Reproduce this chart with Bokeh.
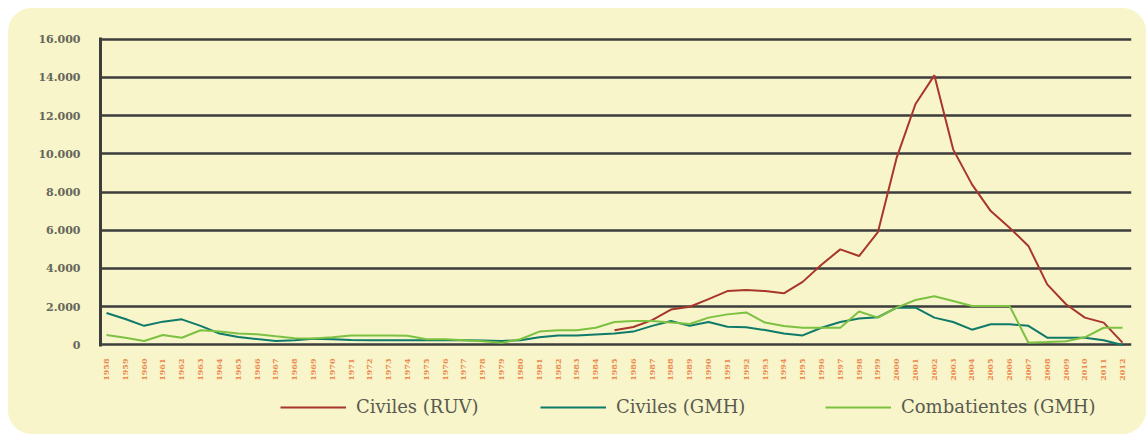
import math
from bokeh.plotting import figure
from bokeh.models import Range1d, FixedTicker, Legend, LegendItem
from bokeh.layouts import column
from bokeh.embed import file_html
from bokeh.resources import INLINE

years = list(range(1958, 2013))

ruv_years = list(range(1985, 2013))
civiles_ruv = [770, 940, 1300, 1850, 2000, 2400, 2820, 2870, 2820, 2700,
               3300, 4200, 5000, 4650, 5900, 9800, 12600, 14100, 10230, 8400,
               7000, 6130, 5180, 3170, 2130, 1430, 1170, 120]

civiles_gmh = [1670, 1360, 1000, 1220, 1340, 1000, 600, 420, 310, 210,
               250, 330, 300, 260, 250, 250, 250, 250, 250, 250,
               230, 210, 250, 400, 500, 500, 550, 600, 700, 1000,
               1250, 1000, 1200, 950, 930, 780, 600, 500, 900, 1200,
               1380, 1450, 1950, 1950, 1430, 1200, 800, 1080, 1080, 1000,
               380, 380, 380, 250, 0]

combatientes_gmh = [520, 380, 210, 520, 380, 770, 700, 600, 560, 450,
                    350, 340, 400, 500, 500, 500, 480, 300, 300, 250,
                    200, 120, 300, 700, 770, 770, 900, 1200, 1250, 1250,
                    1170, 1100, 1430, 1600, 1700, 1170, 990, 900, 900, 900,
                    1750, 1430, 1950, 2350, 2550, 2300, 2040, 2040, 2040, 120,
                    150, 200, 400, 900, 900]

y_ticks = [0, 2000, 4000, 6000, 8000, 10000, 12000, 14000, 16000]
y_tick_labels = ["0", "2.000", "4.000", "6.000", "8.000", "10.000", "12.000", "14.000", "16.000"]

series_names = ["Civiles (RUV)", "Civiles (GMH)", "Combatientes (GMH)"]
series_colors = ["#a8362b", "#0f7a6a", "#7cc142"]

BG = "#f7f5c9"
GRID = "#3d3d3d"

p = figure(width=1138, height=380, output_backend="svg", toolbar_location=None,
           x_range=Range1d(1957.68, 2012.48), y_range=Range1d(-80, 16080),
           min_border_left=92, min_border_right=15, min_border_top=29, min_border_bottom=42)
p.background_fill_color = BG
p.border_fill_color = BG
p.outline_line_color = None

# grid
p.xgrid.grid_line_color = None
p.ygrid.ticker = FixedTicker(ticks=y_ticks)
p.ygrid.grid_line_color = GRID
p.ygrid.grid_line_width = 2.5

# y axis
p.yaxis.ticker = FixedTicker(ticks=y_ticks)
p.yaxis.major_label_overrides = {t: l for t, l in zip(y_ticks, y_tick_labels)}
p.yaxis.axis_line_color = GRID
p.yaxis.axis_line_width = 3
p.yaxis.major_tick_line_color = None
p.yaxis.minor_tick_line_color = None
p.yaxis.major_label_standoff = 14
p.yaxis.major_label_text_font = "DejaVu Serif"
p.yaxis.major_label_text_font_style = "bold"
p.yaxis.major_label_text_font_size = "11px"
p.yaxis.major_label_text_color = "#66665a"

# x axis
p.xaxis.ticker = FixedTicker(ticks=years)
p.xaxis.axis_line_color = None
p.xaxis.major_tick_line_color = None
p.xaxis.minor_tick_line_color = None
p.xaxis.major_label_orientation = math.pi / 2
p.xaxis.major_label_standoff = 6
p.xaxis.major_label_text_font = "DejaVu Serif"
p.xaxis.major_label_text_font_style = "bold"
p.xaxis.major_label_text_font_size = "8px"
p.xaxis.major_label_text_color = "#ec8a4f"

p.line(ruv_years, civiles_ruv, line_color=series_colors[0], line_width=2)
p.line(years, civiles_gmh, line_color=series_colors[1], line_width=2)
p.line(years, combatientes_gmh, line_color=series_colors[2], line_width=2)

# legend strip below the chart (frame aligned with the chart's frame by column)
p2 = figure(width=1138, height=46, output_backend="svg", toolbar_location=None,
            x_range=Range1d(0, 1), y_range=Range1d(0, 1),
            min_border_left=92, min_border_right=15,
            min_border_top=0, min_border_bottom=0)
p2.axis.visible = False
p2.grid.visible = False
p2.outline_line_color = None
p2.background_fill_color = BG
p2.border_fill_color = BG

# legend proxies: placed outside the visible range, only their styles are used
proxy_x = [5, 6]
proxy_y = [5, 6]
leg_x = [180, 440, 725]
for name, color, lx in zip(series_names, series_colors, leg_x):
    r = p2.line(proxy_x, proxy_y, line_color=color, line_width=2)
    leg = Legend(items=[LegendItem(label=name, renderers=[r])], location=(lx, 17),
                 orientation="horizontal", padding=0, margin=0, spacing=0,
                 glyph_width=66, glyph_height=20, label_height=20, label_standoff=10,
                 label_text_font="DejaVu Serif", label_text_font_size="18px",
                 label_text_color="#5a5a50", border_line_color=None,
                 background_fill_alpha=0)
    p2.add_layout(leg, "center")

layout = column(p, p2, spacing=0,
                styles={"border-radius": "24px", "overflow": "hidden",
                        "margin-left": "8px", "margin-top": "8px",
                        "background-color": BG})

open("out.html", "w").write(file_html(layout, INLINE))
